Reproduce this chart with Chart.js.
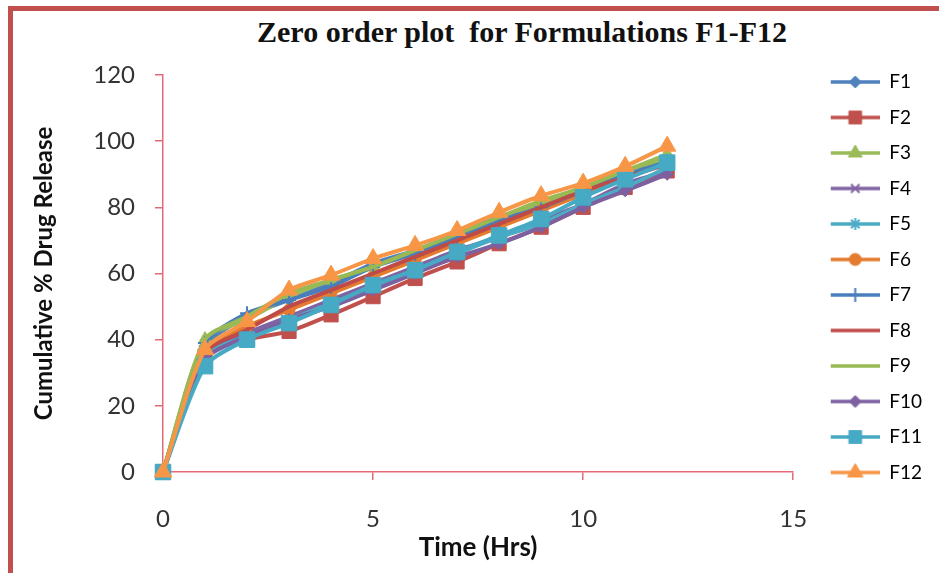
<!DOCTYPE html>
<html lang="en">
<head>
  <meta charset="UTF-8">
  <title>Zero order plot for Formulations F1-F12</title>
  <style>
    html, body { margin: 0; padding: 0; background: #fff; }
    #wrap { position: relative; width: 939px; height: 573px; overflow: hidden; }
    #frame {
      position: absolute; left: 8px; top: 6px; right: -10px; bottom: -10px;
      border-top: 5px solid #c0504d; border-left: 5px solid #c0504d;
    }
    #title {
      position: absolute; top: 15px; left: 0; width: 1044px; text-align: center;
      font: bold 30px "Liberation Serif", "Times New Roman", serif;
      white-space: pre; color: #111;
    }
    #chart { position: absolute; left: 0; top: 0; }
  </style>
  <script src="https://cdn.jsdelivr.net/npm/chart.js"></script>
</head>
<body>
  <div id="wrap">
    <div id="frame"></div>
    <div id="title">Zero order plot  for Formulations F1-F12</div>
    <canvas id="chart" width="939" height="573"></canvas>
  </div>

  <script>
    // data
    const timeHrs = [0, 1, 2, 3, 4, 5, 6, 7, 8, 9, 10, 11, 12];
    const seriesNames = ['F1', 'F2', 'F3', 'F4', 'F5', 'F6', 'F7', 'F8', 'F9', 'F10', 'F11', 'F12'];

    const F1  = [0, 38, 47, 52, 57, 63, 67, 72, 77, 81, 86, 90, 93];
    const F2  = [0, 35, 40, 42.5, 47.5, 53, 58.5, 63.5, 69, 74, 80, 86, 91];
    const F3  = [0, 40, 46, 53, 58, 62, 67, 71, 76, 81, 86, 91, 96];
    const F4  = [0, 36, 42, 47, 52, 57, 62, 67, 71, 76, 81, 87, 91];
    const F5  = [0, 35, 41, 46, 51, 56, 61, 66, 71, 75, 81, 86, 92];
    const F6  = [0, 37, 44, 49, 54, 59, 64, 69, 74, 79, 84, 89, 94];
    const F7  = [0, 39, 48, 52, 56, 62, 66, 71, 76, 80, 85, 90, 94];
    const F8  = [0, 36, 43, 50, 55, 60, 65, 70, 75, 80, 85, 89, 93];
    const F9  = [0, 40, 47, 54, 58, 62, 67, 72, 77, 82, 86, 91, 95];
    const F10 = [0, 34, 41, 46, 50, 55, 60, 65, 69, 74, 80, 85, 90];
    const F11 = [0, 32, 40, 45, 50.5, 56.5, 61, 66.5, 71.5, 76.5, 83, 88.5, 93.5];
    const F12 = [0, 37, 45.5, 55, 59.5, 64.5, 68.5, 73, 78.5, 83.5, 87.3, 92.4, 98.5];

    const seriesValues = [F1, F2, F3, F4, F5, F6, F7, F8, F9, F10, F11, F12];

    const yTicks = [0, 20, 40, 60, 80, 100, 120];
    const xTicks = [0, 5, 10, 15];

    // look of each series (Excel style)
    const looks = [
      { color: '#4F81BD', marker: 'rectRot',  r: 6 },
      { color: '#C0504D', marker: 'rect',     r: 10 },
      { color: '#9BBB59', marker: 'triangle', r: 8 },
      { color: '#8064A2', marker: 'crossRot', r: 6 },
      { color: '#4BACC6', marker: 'star',     r: 6 },
      { color: '#E47B2E', marker: 'circle',   r: 6 },
      { color: '#4A7EBB', marker: 'cross',    r: 7 },
      { color: '#BE4B48', marker: false,      r: 0 },
      { color: '#98B954', marker: false,      r: 0 },
      { color: '#7D60A0', marker: 'rectRot',  r: 6 },
      { color: '#46AAC5', marker: 'rect',     r: 11 },
      { color: '#F79646', marker: 'triangle', r: 10 }
    ];

    const axisColor = '#E46A78';
    const tickFont = { family: 'Lato', size: 24 };
    const lineCross = ['cross', 'crossRot', 'star'];

    function legendIcon(look) {
      const c = document.createElement('canvas');
      c.width = 70; c.height = 24;
      const g = c.getContext('2d');
      g.strokeStyle = look.color;
      g.lineWidth = 3.5;
      g.beginPath(); g.moveTo(21, 12); g.lineTo(70, 12); g.stroke();
      if (look.marker) {
        g.fillStyle = look.color;
        g.lineWidth = lineCross.includes(look.marker) ? 2 : 1;
        Chart.helpers.drawPoint(g, {
          pointStyle: look.marker, radius: Math.min(look.r, 9), rotation: 0,
          borderWidth: g.lineWidth
        }, 45.5, 12);
      }
      return c;
    }

    const datasets = seriesNames.map((name, i) => {
      const look = looks[i];
      return {
        label: name,
        data: timeHrs.map((t, k) => ({ x: t, y: seriesValues[i][k] })),
        borderColor: look.color,
        backgroundColor: look.color,
        pointBackgroundColor: look.color,
        pointBorderColor: look.color,
        pointStyle: look.marker || 'circle',
        pointRadius: look.r,
        pointBorderWidth: lineCross.includes(look.marker) ? 2 : 1,
        borderWidth: 4,
        tension: 0.25,
        fill: false,
        clip: false,
        order: seriesNames.length - i
      };
    });

    const icons = looks.map(legendIcon);

    new Chart(document.getElementById('chart'), {
      type: 'line',
      data: { datasets },
      options: {
        responsive: false,
        animation: false,
        devicePixelRatio: 1,
        layout: { padding: { top: 56, left: 30, right: 7, bottom: 10 } },
        plugins: {
          tooltip: { enabled: false },
          legend: {
            position: 'right',
            align: 'start',
            labels: {
              usePointStyle: true,
              pointStyleWidth: 70,
              padding: 16.5,
              color: '#222',
              font: { family: 'Lato', size: 19 },
              generateLabels: chart => chart.data.datasets.map((ds, i) => ({
                text: ds.label,
                pointStyle: icons[i],
                datasetIndex: i,
                hidden: false,
                lineWidth: 0,
                strokeStyle: ds.borderColor,
                fillStyle: ds.borderColor
              }))
            }
          }
        },
        scales: {
          x: {
            type: 'linear',
            min: 0, max: 15,
            afterBuildTicks: s => { s.ticks = xTicks.map(v => ({ value: v })); },
            afterFit: s => { s.height = 91; },
            ticks: { color: '#333', font: tickFont, padding: 25 },
            grid: { drawOnChartArea: false, drawTicks: true, tickLength: 8, color: axisColor, lineWidth: 1.5 },
            border: { color: axisColor, width: 1.5 },
            title: {
              display: true, text: 'Time (Hrs)', color: '#111',
              font: { family: 'Lato', size: 26, weight: 'bold' },
              padding: { top: 0, bottom: 0 }
            }
          },
          y: {
            min: 0, max: 120,
            afterBuildTicks: s => { s.ticks = yTicks.map(v => ({ value: v })); },
            afterFit: s => { s.width = 133; s.paddingTop = 75; },
            ticks: { color: '#333', font: tickFont, padding: 20 },
            grid: { drawOnChartArea: false, drawTicks: true, tickLength: 8, color: axisColor, lineWidth: 1.5 },
            border: { color: axisColor, width: 1.5 },
            title: {
              display: true, text: 'Cumulative % Drug Release', color: '#111',
              font: { family: 'Lato', size: 24, weight: 'bold' },
              padding: { top: 0, bottom: 10 }
            }
          }
        }
      }
    });
  </script>
</body>
</html>
